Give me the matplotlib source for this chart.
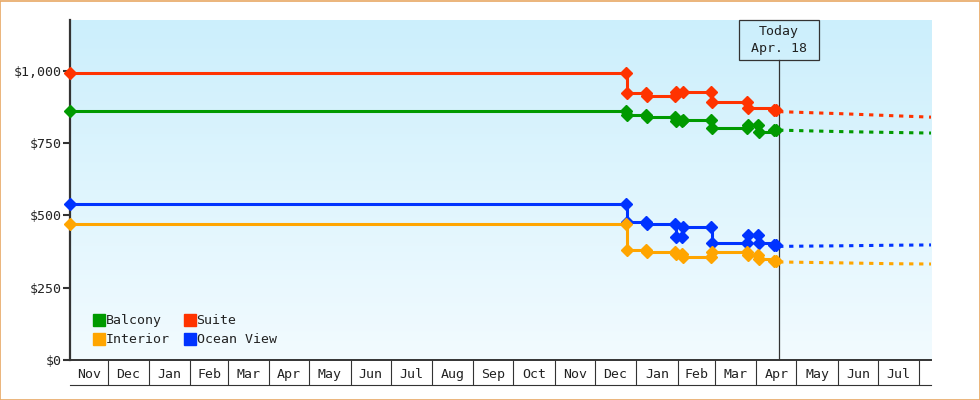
import matplotlib
matplotlib.use('Agg')
import matplotlib.pyplot as plt
import matplotlib.dates as mdates
import matplotlib.transforms as mtransforms
from matplotlib.lines import Line2D
from matplotlib.patches import Rectangle
import numpy as np
import pandas as pd

# observed fares, one list of dates and prices per cabin
suite_dates = ['2016-11-02T18:00', '2017-12-24', '2017-12-25', '2018-01-08', '2018-01-09',
               '2018-01-30', '2018-01-31', '2018-02-05', '2018-02-26', '2018-02-27',
               '2018-03-25', '2018-03-26', '2018-04-14', '2018-04-16']
suite_prices = [993, 993, 923, 923, 912, 912, 928, 928, 928, 892, 892, 871, 866, 866]

cabin_dates = ['2016-11-02T18:00', '2017-12-24', '2017-12-25', '2018-01-08', '2018-01-09',
               '2018-01-30', '2018-01-31', '2018-02-04', '2018-02-05', '2018-02-26',
               '2018-02-27', '2018-03-25', '2018-03-26', '2018-04-02', '2018-04-03',
               '2018-04-14', '2018-04-16']
balcony_prices = [861, 861, 848, 848, 840, 840, 825, 825, 830, 830, 802, 802, 813, 813, 790, 794, 794]
ocean_prices = [540, 540, 479, 479, 471, 471, 425, 425, 461, 461, 404, 404, 433, 433, 404, 397, 397]
interior_prices = [470, 470, 379, 379, 372, 372, 366, 366, 356, 356, 375, 375, 362, 362, 350, 342, 342]

# projected fares after today
proj_dates = ['2018-04-18', '2018-06-03', '2018-07-12', '2018-08-10']
suite_proj = [859, 852, 845, 840]
balcony_proj = [795, 790, 787, 785]
ocean_proj = [393, 395, 397, 398]
interior_proj = [339, 336, 333, 332]

today = '2018-04-18'
today_text = 'Today\nApr. 18'
month_labels = ['Nov', 'Dec', 'Jan', 'Feb', 'Mar', 'Apr', 'May', 'Jun', 'Jul', 'Aug', 'Sep',
                'Oct', 'Nov', 'Dec', 'Jan', 'Feb', 'Mar', 'Apr', 'May', 'Jun', 'Jul']
yticks = [0, 250, 500, 750, 1000]
ytick_labels = ['$0', '$250', '$500', '$750', '$1,000']

colors = {'Balcony': '#009a00', 'Suite': '#ff3300', 'Interior': '#ffa500', 'Ocean View': '#0033ff'}

plt.rcParams['font.family'] = ['DejaVu Sans Mono']
plt.rcParams['lines.scale_dashes'] = False
txt = '#222222'
axc = '#333333'

fig = plt.figure(figsize=(9.8, 4.0), dpi=100)
fig.patches.append(Rectangle((0.0005, 0.001), 0.999, 0.9975, transform=fig.transFigure,
                             fill=False, edgecolor='#e8a865', linewidth=1.2, zorder=10))
ax = fig.add_axes([70 / 980, 40 / 400, 861 / 980, 340 / 400])

# gradient background
grad = np.linspace(0, 1, 256).reshape(-1, 1)
top = np.array([204, 239, 252]) / 255
bot = np.array([242, 251, 255]) / 255
img = top + (bot - top) * grad[..., None]
ax.imshow(img, extent=[0, 1, 0, 1], transform=ax.transAxes, aspect='auto', zorder=0)

series = [
    ('Suite', suite_dates, suite_prices, suite_proj),
    ('Balcony', cabin_dates, balcony_prices, balcony_proj),
    ('Ocean View', cabin_dates, ocean_prices, ocean_proj),
    ('Interior', cabin_dates, interior_prices, interior_proj),
]
pdates = pd.to_datetime(proj_dates)
for name, d, p, proj in series:
    c = colors[name]
    ax.plot(pd.to_datetime(d, format='ISO8601'), p, drawstyle='steps-post', color=c, lw=2.2,
            marker='D', ms=6, zorder=5, solid_joinstyle='miter', clip_on=False)
    ax.plot(pdates, proj, color=c, lw=2.2, dashes=(3.1, 4.1), dash_capstyle='butt', zorder=3)

start = pd.Timestamp('2016-11-02 18:00')
end = pd.Timestamp('2018-08-09 19:00')
ax.set_xlim(start, end)
ax.set_ylim(0, 1176)

# month cells below the axis
months = pd.date_range('2016-11-01', periods=len(month_labels) + 1, freq='MS')
centers = [max(m, start) + (n - max(m, start)) / 2 for m, n in zip(months[:-1], months[1:])]
ax.set_xticks(centers)
ax.set_xticklabels(month_labels, color=txt, fontsize=9.5)
ax.set_xticks(months[1:], minor=True)
ax.tick_params(axis='x', which='major', length=0, pad=6)
ax.tick_params(axis='x', which='minor', length=18, width=0.8, color=axc, direction='out')
cell_h = 25 / 340
ax.plot([0, 1], [-cell_h, -cell_h], transform=ax.transAxes, color=axc, lw=0.8, clip_on=False)

ax.set_yticks(yticks)
ax.set_yticklabels(ytick_labels, color=txt, fontsize=9.5)
ax.tick_params(axis='y', length=5, width=1.5, color=axc, pad=1)

for s in ['top', 'right']:
    ax.spines[s].set_visible(False)
ax.spines['left'].set_color(axc)
ax.spines['left'].set_linewidth(1.6)
ax.spines['bottom'].set_color(axc)
ax.spines['bottom'].set_linewidth(1.4)

# today marker with box
tnum = mdates.date2num(pd.Timestamp(today))
span = mdates.date2num(end) - mdates.date2num(start)
box_w = 80 * span / 861
box_h = 40 / 340
trans = mtransforms.blended_transform_factory(ax.transData, ax.transAxes)
ax.plot([tnum, tnum], [0, 1 - box_h], transform=trans, color=axc, lw=0.9, zorder=4)
ax.add_patch(Rectangle((tnum - box_w / 2, 1 - box_h), box_w, box_h, transform=trans,
                       fill=False, edgecolor=axc, lw=0.9, zorder=4, clip_on=False))
ax.text(tnum, 1 - box_h / 2, today_text, transform=trans, ha='center', va='center',
        fontsize=9.5, color=txt, linespacing=1.35, zorder=5)

handles = [Line2D([], [], marker='s', ls='none', ms=8, color=colors[n]) for n in
           ['Balcony', 'Interior', 'Suite', 'Ocean View']]
ax.legend(handles, ['Balcony', 'Interior', 'Suite', 'Ocean View'], ncol=2, loc='lower left',
          bbox_to_anchor=(0.0205, 0.025), frameon=False, fontsize=9.5, handlelength=0.9,
          handletextpad=0.05, labelspacing=0.45, columnspacing=1.1, borderaxespad=0,
          labelcolor=txt)

fig.savefig('out.png', dpi=100)
